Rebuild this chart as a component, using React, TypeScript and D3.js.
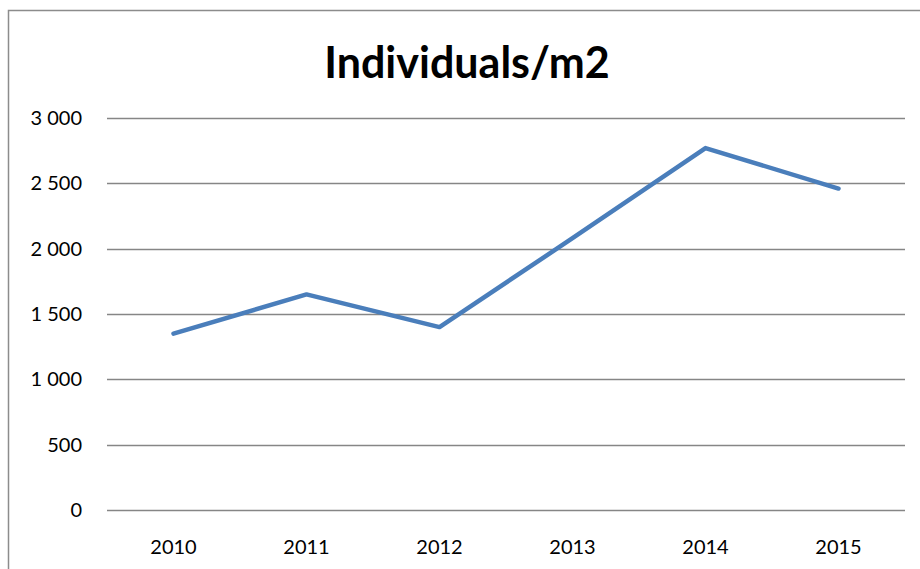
import React, { useEffect, useRef } from "react";
import * as d3 from "d3";

const years = ["2010", "2011", "2012", "2013", "2014", "2015"];
const individuals = [1350, 1650, 1400, 2080, 2770, 2460];
const yTicks = [0, 500, 1000, 1500, 2000, 2500, 3000];
const title = "Individuals/m2";

const size = { width: 920, height: 569 };
const margin = { top: 118, right: 15, bottom: 59, left: 107 };
const font = "Lato, 'Open Sans', sans-serif";

export default function App() {
  const ref = useRef<SVGSVGElement>(null);

  useEffect(() => {
    const svg = d3.select(ref.current);
    svg.selectAll("*").remove();

    const innerW = size.width - margin.left - margin.right;
    const innerH = size.height - margin.top - margin.bottom;

    // chart frame, runs off the right and bottom like the screenshot
    svg.append("rect")
      .attr("x", 8.5).attr("y", 10.5)
      .attr("width", 1000).attr("height", 1000)
      .attr("fill", "white")
      .attr("stroke", "#8c8c8c")
      .attr("stroke-width", 1.5);

    svg.append("text")
      .attr("x", 467)
      .attr("y", 78)
      .attr("text-anchor", "middle")
      .style("font", "bold 43px " + font)
      .attr("fill", "#000")
      .text(title);

    const g = svg.append("g")
      .attr("transform", "translate(" + margin.left + "," + margin.top + ")");

    const x = d3.scaleBand().domain(years).range([0, innerW]);
    const y = d3.scaleLinear().domain([0, 3000]).range([innerH, 0]);

    // gridlines
    g.append("g")
      .selectAll("line")
      .data(yTicks)
      .enter().append("line")
      .attr("x1", 0).attr("x2", innerW)
      .attr("y1", (d) => Math.round(y(d)) + 0.5)
      .attr("y2", (d) => Math.round(y(d)) + 0.5)
      .attr("stroke", "#868686")
      .attr("stroke-width", 1.3);

    const fmt = (v: number) => d3.format(",")(v).replace(/,/g, " ");

    const yAxis = g.append("g")
      .attr("transform", "translate(-22,0)")
      .call(d3.axisLeft(y).tickValues(yTicks).tickSize(0).tickFormat((d) => fmt(+d)));
    yAxis.select(".domain").remove();
    yAxis.selectAll("text")
      .style("font", "20px " + font)
      .attr("fill", "#000");

    const xAxis = g.append("g")
      .attr("transform", "translate(0," + (innerH + 27) + ")")
      .call(d3.axisBottom(x).tickSize(0));
    xAxis.select(".domain").remove();
    xAxis.selectAll("text")
      .style("font", "20px " + font)
      .attr("fill", "#000");

    const line = d3.line<number>()
      .x((d, i) => (x(years[i]) as number) + x.bandwidth() / 2)
      .y((d) => y(d));

    g.append("path")
      .datum(individuals)
      .attr("d", line)
      .attr("fill", "none")
      .attr("stroke", "#4a7ebb")
      .attr("stroke-width", 4.5)
      .attr("stroke-linejoin", "round")
      .attr("stroke-linecap", "round");
  }, []);

  return (
    <svg
      ref={ref}
      width={size.width}
      height={size.height}
      style={{ position: "fixed", left: 0, top: 0, background: "white" }}
    />
  );
}
